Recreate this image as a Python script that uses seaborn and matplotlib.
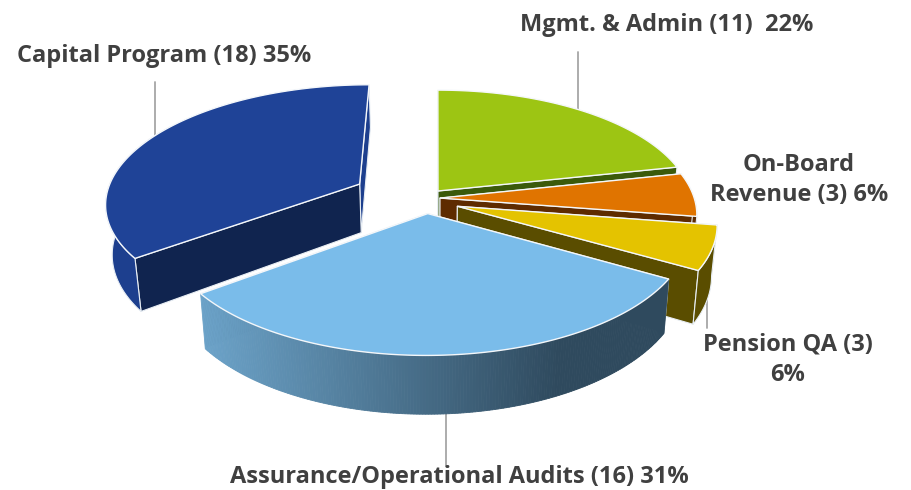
import numpy as np
import matplotlib
matplotlib.use("Agg")
import matplotlib.pyplot as plt
import seaborn as sns

# ---- data
categories = ["Mgmt. & Admin", "On-Board\nRevenue", "Pension QA",
              "Assurance/Operational Audits", "Capital Program"]
counts = [11, 3, 3, 16, 18]
percents = [22, 6, 6, 31, 35]
label_formats = ["{c} ({n})  {p}%", "{c} ({n}) {p}%", "{c} ({n})\n{p}%",
                 "{c} ({n}) {p}%", "{c} ({n}) {p}%"]

# ---- styling
top_colors = sns.color_palette(["#9DC513", "#E07400", "#E4C300", "#7ABCEA", "#1F4397"])
cut_colors = ["#3B5A0B", "#5E2B00", "#5A4D00", "#2F4A5E", "#10244F"]
side_colors = ["#3B5A0B", "#5E2B00", "#5A4D00", None, "#1D3F8E"]
grad_left = np.array(matplotlib.colors.to_rgb("#6CA3C9"))
grad_right = np.array(matplotlib.colors.to_rgb("#2F4A5E"))
offset_x = [1, 3, 20, -9, -78]     # slice displacement, px
offset_y = [0, 7, 15, 22, -7]
label_pos = [(667, 25), (799, 180), (788, 360), (459, 477), (164, 56)]
leaders = [((578, 52), (578, 112)), (None, None), ((707, 297), (707, 328)),
           ((446, 414), (446, 466)), ((155, 82), (155, 136))]

VX, VY = 437, 191
RX, RY = 252, 115
K = 0.14
DEPTH = 49
SHRINK = 0.98

sns.set_theme(style="white")
plt.rcParams["font.family"] = ["Open Sans", "DejaVu Sans"]

fig = plt.figure(figsize=(9.11, 4.9), dpi=100)
ax = fig.add_axes([0, 0, 1, 1])
ax.set_xlim(0, 911)
ax.set_ylim(490, 0)
ax.axis("off")


def project(wx, wy, lower=False):
    s = 1 / (1 + K * wy)
    f = SHRINK if lower else 1.0
    x = VX + wx * RX * s * f
    y = VY - wy * RY * s + (DEPTH * s if lower else 0)
    return x, y


def centre(i):
    return offset_x[i] / RX, -offset_y[i] / RY


for a, b in leaders:
    if a is not None:
        ax.plot([a[0], b[0]], [a[1], b[1]], color="#A6A6A6", lw=1.3, zorder=1)

bounds = np.concatenate([[0], np.cumsum(counts)]) / np.sum(counts) * 2 * np.pi
order = [4, 0, 1, 2, 3]
z = 2
for i in order:
    th = np.linspace(bounds[i], bounds[i + 1], 200)
    cx, cy = centre(i)
    wx, wy = cx + np.sin(th), cy + np.cos(th)
    # cut faces: the one facing the viewer goes last
    right_side = (th[0] + th[-1]) / 2 < np.pi
    cuts = (th[0], th[-1]) if right_side else (th[-1], th[0])
    for t in cuts:
        px, py = np.sin(t) + cx, np.cos(t) + cy
        p0 = project(cx, cy); p1 = project(px, py)
        p2 = project(px, py, True); p3 = project(cx, cy, True)
        col = cut_colors[i]
        if i == 4 and t == th[-1]:
            col = side_colors[4]
        ax.fill([p0[0], p1[0], p2[0], p3[0]], [p0[1], p1[1], p2[1], p3[1]],
                facecolor=col, edgecolor="#E8EEF4", lw=0.8, zorder=z)
        z += 1
    # outer side: the part that faces the viewer (the left slice sits wholly
    # left of the eye line, so its rim stays visible further round)
    tx, ty = project(wx, wy)
    bx, by = project(wx, wy, True)
    vis = np.cos(th) < (0.55 if i == 4 else 0)
    if i == 3:
        idx = np.where(vis)[0]
        for j in idx[:-1]:
            frac = np.clip((tx[j] - 201) / (560 - 201), 0, 1)
            col = grad_left + (grad_right - grad_left) * frac
            ax.fill([tx[j], tx[j + 1], bx[j + 1], bx[j]],
                    [ty[j], ty[j + 1], by[j + 1], by[j]],
                    facecolor=col, edgecolor=col, lw=0.6, zorder=z)
    elif vis.any():
        ax.fill(np.r_[tx[vis], bx[vis][::-1]], np.r_[ty[vis], by[vis][::-1]],
                facecolor=side_colors[i], edgecolor="#E8EEF4", lw=0.8, zorder=z)
    z += 1
    # top
    c0 = project(cx, cy)
    ax.fill(np.r_[c0[0], tx], np.r_[c0[1], ty], facecolor=top_colors[i],
            edgecolor="#F4F7FA", lw=1.0, zorder=z, joinstyle="round")
    z += 1

for i, cat in enumerate(categories):
    text = label_formats[i].format(c=cat, n=counts[i], p=percents[i])
    ax.text(*label_pos[i], text, ha="center", va="center", color="#404040",
            fontsize=17, fontweight="bold", linespacing=1.35, zorder=50)

fig.savefig("out.png", dpi=100)
